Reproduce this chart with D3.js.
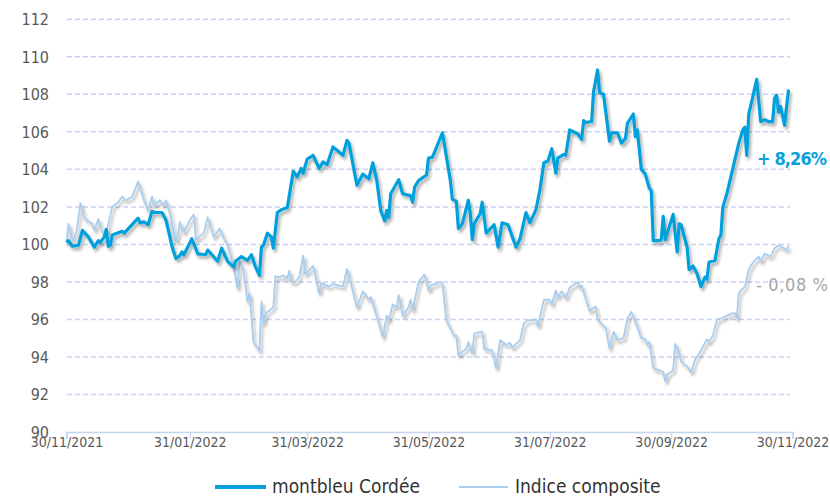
<!DOCTYPE html>
<html lang="fr">
<head>
<meta charset="utf-8">
<title>montbleu Cordée vs Indice composite</title>
<script src="https://cdn.jsdelivr.net/npm/d3@7"></script>
<style>
  html, body { margin: 0; padding: 0; background: #fff; }
  svg { display: block; font-family: "Liberation Sans Narrow", "DejaVu Sans Condensed", "Open Sans", sans-serif; }
</style>
</head>
<body>
<svg id="chart" width="830" height="496"></svg>
<script>
// fund (montbleu Cordée), base 100 on 30/11/2021
var fundDates = ["2021-11-30","2021-12-01","2021-12-03","2021-12-06","2021-12-08","2021-12-11","2021-12-14","2021-12-16","2021-12-17","2021-12-19",
  "2021-12-20","2021-12-21","2021-12-22","2021-12-23","2021-12-28","2021-12-29","2022-01-05","2022-01-06","2022-01-08","2022-01-10",
  "2022-01-12","2022-01-14","2022-01-17","2022-01-19","2022-01-21","2022-01-22","2022-01-24","2022-01-26","2022-01-27","2022-01-28",
  "2022-02-01","2022-02-04","2022-02-08","2022-02-09","2022-02-14","2022-02-16","2022-02-19","2022-02-22","2022-02-23","2022-02-26",
  "2022-03-01","2022-03-03","2022-03-05","2022-03-07","2022-03-08","2022-03-09","2022-03-11","2022-03-13","2022-03-14","2022-03-16",
  "2022-03-18","2022-03-21","2022-03-24","2022-03-26","2022-03-28","2022-03-29","2022-03-31","2022-04-03","2022-04-06","2022-04-08",
  "2022-04-10","2022-04-13","2022-04-18","2022-04-20","2022-04-21","2022-04-25","2022-04-28","2022-05-01","2022-05-03","2022-05-05",
  "2022-05-07","2022-05-09","2022-05-10","2022-05-11","2022-05-12","2022-05-16","2022-05-18","2022-05-22","2022-05-23","2022-05-24",
  "2022-05-26","2022-05-30","2022-05-31","2022-06-02","2022-06-07","2022-06-11","2022-06-12","2022-06-14","2022-06-15","2022-06-17",
  "2022-06-20","2022-06-21","2022-06-22","2022-06-23","2022-06-26","2022-06-27","2022-06-29","2022-07-03","2022-07-05","2022-07-07",
  "2022-07-10","2022-07-14","2022-07-16","2022-07-19","2022-07-21","2022-07-24","2022-07-26","2022-07-28","2022-07-30","2022-08-01",
  "2022-08-03","2022-08-04","2022-08-07","2022-08-08","2022-08-10","2022-08-14","2022-08-16","2022-08-17","2022-08-18","2022-08-21",
  "2022-08-22","2022-08-24","2022-08-25","2022-08-27","2022-08-30","2022-08-31","2022-09-03","2022-09-05","2022-09-07","2022-09-08",
  "2022-09-11","2022-09-12","2022-09-13","2022-09-15","2022-09-17","2022-09-19","2022-09-20","2022-09-21","2022-09-24","2022-09-25",
  "2022-09-26","2022-09-27","2022-10-01","2022-10-03","2022-10-04","2022-10-05","2022-10-08","2022-10-09","2022-10-11","2022-10-13",
  "2022-10-15","2022-10-17","2022-10-18","2022-10-19","2022-10-22","2022-10-24","2022-10-25","2022-10-26","2022-10-28","2022-10-31",
  "2022-11-03","2022-11-05","2022-11-06","2022-11-07","2022-11-08","2022-11-10","2022-11-12","2022-11-14","2022-11-16","2022-11-18",
  "2022-11-20","2022-11-21","2022-11-22","2022-11-23","2022-11-24","2022-11-26","2022-11-28"];
var fundValues = [100.1,100.2,99.9,99.95,100.75,100.4,99.85,100.2,100.1,100.4,
  100.8,99.9,99.95,100.5,100.7,100.6,101.4,101.15,101.2,101.05,
  101.75,101.7,101.7,101.3,100.4,99.9,99.25,99.4,99.6,99.45,
  100.3,99.5,99.45,99.7,99.1,99.8,99.1,98.8,99.1,99.35,
  99.15,99.45,98.8,98.35,99.85,99.95,100.6,100.4,99.8,101.7,
  101.85,101.95,103.9,103.6,104.05,103.8,104.55,104.75,104.05,104.4,
  104.25,105.2,104.75,105.55,105.4,103.15,103.75,103.5,104.35,103.4,
  101.8,101.25,101.8,101.45,102.7,103.45,102.7,102.6,102.25,103.05,
  103.4,103.7,104.6,104.65,105.95,103.4,102.4,102.3,100.85,101.1,
  102.35,101.65,100.25,101.1,101.65,102.25,100.6,101.05,99.85,101.15,
  101.05,99.85,100.3,101.7,101.15,101.85,102.9,104.35,104.45,105.1,
  103.8,104.6,104.8,104.75,106.1,105.9,105.6,106.6,106.5,106.55,
  108.15,109.3,108.1,108.0,105.5,105.95,105.95,105.4,105.65,106.45,
  106.95,105.75,106.1,104.0,103.75,103.0,102.85,100.2,100.2,100.25,
  101.5,100.25,101.6,99.6,101.1,101.05,99.85,98.65,98.85,98.45,
  97.75,98.25,98.15,99.05,99.15,100.3,100.5,102.0,102.7,104.05,
  105.4,106.1,106.25,104.75,106.95,107.85,108.8,106.55,106.65,106.55,
  106.55,107.8,107.95,107.05,107.35,106.35,108.26];

// benchmark (Indice composite), base 100 on 30/11/2021
var indexDates = ["2021-11-30","2021-12-01","2021-12-03","2021-12-05","2021-12-07","2021-12-09","2021-12-13","2021-12-14","2021-12-16","2021-12-18",
  "2021-12-20","2021-12-23","2021-12-26","2021-12-28","2021-12-30","2022-01-02","2022-01-05","2022-01-08","2022-01-10","2022-01-12",
  "2022-01-13","2022-01-16","2022-01-18","2022-01-19","2022-01-21","2022-01-24","2022-01-25","2022-01-26","2022-01-28","2022-01-31",
  "2022-02-02","2022-02-03","2022-02-07","2022-02-09","2022-02-12","2022-02-15","2022-02-17","2022-02-19","2022-02-21","2022-02-22",
  "2022-02-24","2022-02-25","2022-02-27","2022-02-28","2022-03-01","2022-03-02","2022-03-04","2022-03-07","2022-03-08","2022-03-09",
  "2022-03-10","2022-03-14","2022-03-15","2022-03-17","2022-03-19","2022-03-21","2022-03-22","2022-03-23","2022-03-25","2022-03-27",
  "2022-03-29","2022-03-30","2022-04-03","2022-04-06","2022-04-07","2022-04-11","2022-04-13","2022-04-18","2022-04-20","2022-04-22",
  "2022-04-25","2022-04-28","2022-05-01","2022-05-02","2022-05-05","2022-05-08","2022-05-10","2022-05-11","2022-05-13","2022-05-15",
  "2022-05-16","2022-05-18","2022-05-21","2022-05-22","2022-05-23","2022-05-26","2022-05-29","2022-05-31","2022-06-01","2022-06-06",
  "2022-06-07","2022-06-09","2022-06-13","2022-06-14","2022-06-15","2022-06-19","2022-06-20","2022-06-22","2022-06-23","2022-06-27",
  "2022-06-28","2022-07-02","2022-07-04","2022-07-06","2022-07-09","2022-07-11","2022-07-12","2022-07-16","2022-07-18","2022-07-20",
  "2022-07-24","2022-07-25","2022-07-28","2022-07-31","2022-08-01","2022-08-03","2022-08-04","2022-08-06","2022-08-08","2022-08-10",
  "2022-08-14","2022-08-15","2022-08-16","2022-08-18","2022-08-20","2022-08-23","2022-08-24","2022-08-27","2022-08-28","2022-08-30",
  "2022-09-01","2022-09-03","2022-09-06","2022-09-08","2022-09-10","2022-09-13","2022-09-15","2022-09-17","2022-09-18","2022-09-19",
  "2022-09-21","2022-09-24","2022-09-26","2022-09-27","2022-09-28","2022-10-01","2022-10-02","2022-10-04","2022-10-05","2022-10-08",
  "2022-10-10","2022-10-12","2022-10-15","2022-10-17","2022-10-18","2022-10-19","2022-10-21","2022-10-23","2022-10-25","2022-10-27",
  "2022-10-30","2022-11-01","2022-11-02","2022-11-03","2022-11-04","2022-11-06","2022-11-07","2022-11-08","2022-11-09","2022-11-11",
  "2022-11-13","2022-11-14","2022-11-16","2022-11-19","2022-11-21","2022-11-23","2022-11-25","2022-11-27","2022-11-28"];
var indexValues = [100.15,101.1,100.2,100.65,102.2,101.4,101.1,100.75,101.35,100.65,
  100.6,102.0,102.25,102.55,102.35,102.55,103.35,102.35,101.8,102.55,
  102.1,102.35,102.1,102.35,101.65,100.15,100.5,101.2,100.65,101.3,
  101.6,100.25,100.6,101.45,100.4,100.85,100.35,99.95,99.25,98.8,
  97.65,99.1,98.65,97.75,96.95,97.4,94.8,94.35,96.95,95.8,
  96.3,96.65,98.3,98.25,98.35,98.2,98.6,98.0,98.0,98.25,
  99.4,98.4,98.85,97.4,97.95,97.75,97.9,97.75,98.7,97.9,
  96.65,97.5,97.05,97.2,96.15,95.05,96.2,95.95,96.8,96.65,
  97.3,96.2,96.65,97.05,96.5,98.0,98.4,97.55,97.8,98.0,
  97.9,95.95,95.1,95.15,94.1,94.45,94.8,94.2,95.25,95.35,
  94.45,94.35,93.4,94.9,94.65,94.75,94.5,94.9,95.8,95.95,
  96.0,95.65,97.05,97.05,96.8,97.55,97.2,97.5,97.15,97.7,
  98.0,97.7,97.8,97.1,96.45,96.7,96.0,95.65,95.6,94.45,
  95.35,94.9,95.0,96.05,96.4,95.6,95.0,94.95,94.65,94.8,
  93.4,93.3,93.2,92.7,93.05,93.3,94.7,94.25,93.75,93.5,
  93.2,93.85,94.35,94.75,94.95,94.8,95.15,96.0,96.05,96.15,
  96.3,96.35,96.05,97.4,97.55,97.75,98.2,98.65,98.85,99.15,
  99.35,99.1,99.5,99.35,99.8,99.95,99.85,99.7,99.92];

var yTicks = [90, 92, 94, 96, 98, 100, 102, 104, 106, 108, 110, 112];
var xTicks = ["2021-11-30","2022-01-31","2022-03-31","2022-05-31","2022-07-31","2022-09-30","2022-11-30"];
var seriesNames = ["montbleu Cordée", "Indice composite"];
var perfLabels = ["+ 8,26%", "- 0,08 %"];

var parse = d3.timeParse("%Y-%m-%d");
var fmt = d3.timeFormat("%d/%m/%Y");

var fund = fundDates.map(function(d, i) { return { date: parse(d), value: fundValues[i] }; });
var bench = indexDates.map(function(d, i) { return { date: parse(d), value: indexValues[i] }; });

var svg = d3.select("#chart");

var x = d3.scaleTime()
    .domain([parse("2021-11-30"), parse("2022-11-30")])
    .range([66.5, 792.5]);
var y = d3.scaleLinear()
    .domain([90, 112])
    .range([432, 19.3]);

var defs = svg.append("defs");
var shadow = defs.append("filter").attr("id", "shadow")
    .attr("x", "-5%").attr("y", "-5%").attr("width", "110%").attr("height", "120%");
shadow.append("feDropShadow")
    .attr("dx", 2).attr("dy", 3).attr("stdDeviation", 1.6)
    .attr("flood-color", "#000").attr("flood-opacity", 0.32);

// horizontal dashed gridlines
svg.append("g")
  .selectAll("line")
  .data(yTicks.filter(function(t) { return t > 90; }))
  .enter().append("line")
    .attr("x1", 67).attr("x2", 790)
    .attr("y1", function(d) { return y(d); })
    .attr("y2", function(d) { return y(d); })
    .attr("stroke", "#c6d4f6")
    .attr("stroke-width", 1.5)
    .attr("stroke-dasharray", "5,3");

// y labels
svg.append("g")
  .selectAll("text")
  .data(yTicks)
  .enter().append("text")
    .attr("x", 49)
    .attr("y", function(d) { return y(d); })
    .attr("dy", "0.36em")
    .attr("text-anchor", "end")
    .attr("fill", "#595959")
    .style("font-size", "16px")
    .text(function(d) { return d; });

// x axis
var xAxis = d3.axisBottom(x)
    .tickValues(xTicks.map(parse))
    .tickSize(7)
    .tickFormat(fmt);
var gx = svg.append("g")
    .attr("transform", "translate(0,432)")
    .call(xAxis);
gx.attr("font-family", null).attr("font-size", null);
gx.select(".domain").attr("stroke", "#c3d6f0").attr("stroke-width", 1.5);
gx.selectAll(".tick line").attr("stroke", "#c3d6f0").attr("stroke-width", 1.2);
gx.selectAll(".tick text")
    .attr("y", 5)
    .attr("fill", "#595959")
    .style("font-size", "14px");

var line = d3.line()
    .x(function(d) { return x(d.date); })
    .y(function(d) { return y(d.value); });

svg.append("path")
    .datum(bench)
    .attr("d", line)
    .attr("fill", "none")
    .attr("stroke", "#a9cdef")
    .attr("stroke-width", 1.8)
    .attr("stroke-linejoin", "round")
    .attr("filter", "url(#shadow)");

svg.append("path")
    .datum(fund)
    .attr("d", line)
    .attr("fill", "none")
    .attr("stroke", "#05a0dd")
    .attr("stroke-width", 3.2)
    .attr("stroke-linejoin", "round")
    .attr("filter", "url(#shadow)");

// performance labels
svg.append("text")
    .attr("x", 757).attr("y", 165)
    .attr("fill", "#0aa0dc")
    .style("font-size", "18px")
    .style("font-weight", "bold")
    .attr("textLength", 70)
    .text(perfLabels[0]);
svg.append("text")
    .attr("x", 756).attr("y", 291)
    .attr("fill", "#a6a6a6")
    .style("font-size", "18px")
    .attr("textLength", 72)
    .text(perfLabels[1]);

// legend
var legend = svg.append("g");
legend.append("line")
    .attr("x1", 215).attr("x2", 266).attr("y1", 487).attr("y2", 487)
    .attr("stroke", "#05a0dd").attr("stroke-width", 4);
legend.append("text")
    .attr("x", 272).attr("y", 493)
    .attr("fill", "#333")
    .style("font-size", "19px")
    .text(seriesNames[0]);
legend.append("line")
    .attr("x1", 459).attr("x2", 508).attr("y1", 487).attr("y2", 487)
    .attr("stroke", "#a9cdef").attr("stroke-width", 2);
legend.append("text")
    .attr("x", 515).attr("y", 493)
    .attr("fill", "#333")
    .style("font-size", "19px")
    .text(seriesNames[1]);
</script>
</body>
</html>
